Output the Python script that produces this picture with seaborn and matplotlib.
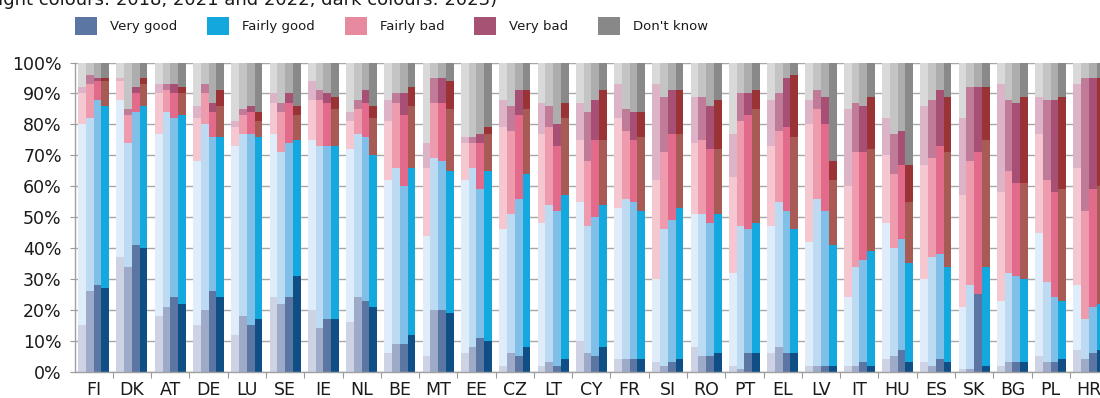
import numpy as np
import pandas as pd
import matplotlib
matplotlib.use("Agg")
import matplotlib.pyplot as plt
from matplotlib.patches import Patch
import seaborn as sns

# --- data -------------------------------------------------------------------
COUNTRIES = ["FI", "DK", "AT", "DE", "LU", "SE", "IE", "NL", "BE", "MT", "EE",
             "CZ", "LT", "CY", "FR", "SI", "RO", "PT", "EL", "LV", "IT", "HU",
             "ES", "SK", "BG", "PL", "HR"]
YEARS = ["2018", "2021", "2022", "2023"]
CATEGORIES = ["Very good", "Fairly good", "Fairly bad", "Very bad", "Don't know"]

# shares in % per country (same order as COUNTRIES)
VERY_GOOD_2018 = [15, 37, 18, 15, 12, 24, 20, 16, 6, 5, 6, 2, 2, 10, 4, 3, 8, 2, 6, 2, 2, 4, 3, 1, 2, 5, 7]
VERY_GOOD_2021 = [26, 34, 21, 20, 18, 22, 14, 24, 9, 20, 8, 6, 3, 6, 4, 2, 5, 1, 8, 2, 2, 5, 2, 1, 3, 3, 4]
VERY_GOOD_2022 = [28, 41, 24, 26, 15, 24, 17, 23, 9, 20, 11, 5, 2, 5, 4, 3, 5, 6, 6, 2, 3, 7, 4, 25, 3, 3, 6]
VERY_GOOD_2023 = [27, 40, 22, 24, 17, 31, 17, 21, 12, 19, 10, 8, 4, 8, 4, 4, 6, 6, 6, 2, 2, 3, 3, 2, 3, 4, 7]

FAIRLY_GOOD_2018 = [65, 51, 59, 53, 61, 53, 55, 56, 56, 39, 56, 44, 46, 45, 49, 27, 43, 30, 41, 40, 22, 44, 27, 20, 21, 40, 21]
FAIRLY_GOOD_2021 = [56, 40, 63, 60, 59, 49, 59, 53, 57, 49, 58, 45, 51, 41, 52, 44, 46, 46, 47, 54, 32, 35, 35, 27, 29, 26, 13]
FAIRLY_GOOD_2022 = [60, 43, 58, 50, 62, 50, 56, 53, 51, 48, 48, 51, 50, 45, 51, 46, 43, 40, 46, 50, 33, 36, 34, 0, 28, 21, 15]
FAIRLY_GOOD_2023 = [59, 46, 61, 52, 59, 44, 56, 49, 54, 46, 55, 56, 53, 46, 48, 49, 45, 42, 40, 39, 37, 32, 31, 32, 27, 19, 15]

FAIRLY_BAD_2018 = [10, 6, 13, 14, 6, 10, 13, 9, 19, 22, 12, 33, 29, 20, 29, 32, 23, 31, 26, 38, 36, 22, 37, 36, 35, 32, 38]
FAIRLY_BAD_2021 = [11, 9, 7, 10, 6, 13, 15, 8, 21, 18, 8, 27, 25, 21, 22, 25, 24, 34, 23, 29, 37, 24, 32, 40, 33, 33, 35]
FAIRLY_BAD_2022 = [6, 6, 8, 8, 7, 13, 14, 11, 23, 19, 15, 27, 21, 25, 20, 28, 24, 37, 27, 28, 35, 24, 35, 46, 30, 34, 38]
FAIRLY_BAD_2023 = [8, 7, 7, 10, 5, 8, 12, 12, 20, 20, 12, 21, 25, 21, 24, 24, 21, 37, 30, 21, 33, 20, 37, 41, 31, 36, 38]

VERY_BAD_2018 = [2, 1, 3, 4, 2, 3, 6, 3, 7, 8, 2, 9, 10, 12, 11, 31, 15, 14, 15, 8, 25, 12, 19, 25, 35, 12, 27]
VERY_BAD_2021 = [3, 2, 2, 3, 2, 3, 3, 3, 3, 8, 2, 8, 7, 16, 7, 18, 14, 9, 12, 6, 16, 13, 19, 24, 23, 26, 43]
VERY_BAD_2022 = [1, 2, 3, 3, 2, 3, 3, 4, 7, 8, 3, 8, 7, 13, 9, 14, 14, 7, 16, 9, 15, 11, 18, 21, 26, 30, 36]
VERY_BAD_2023 = [1, 2, 2, 5, 3, 3, 4, 4, 6, 9, 2, 6, 5, 16, 8, 14, 16, 6, 20, 6, 17, 12, 18, 17, 28, 30, 35]

DONT_KNOW_2018 = [8, 5, 7, 14, 19, 10, 6, 16, 12, 26, 24, 12, 13, 13, 7, 7, 11, 23, 12, 12, 15, 18, 14, 18, 7, 11, 7]
DONT_KNOW_2021 = [4, 15, 7, 7, 15, 13, 9, 12, 10, 5, 24, 14, 14, 16, 15, 11, 11, 10, 10, 9, 13, 23, 12, 8, 12, 12, 5]
DONT_KNOW_2022 = [5, 8, 7, 13, 14, 10, 10, 9, 10, 5, 23, 9, 20, 12, 16, 9, 14, 10, 5, 11, 14, 22, 9, 8, 13, 12, 5]
DONT_KNOW_2023 = [5, 5, 8, 9, 16, 14, 11, 14, 8, 6, 21, 9, 13, 9, 16, 9, 12, 9, 4, 32, 11, 33, 11, 8, 11, 11, 5]

SHARES = {
    "Very good": [VERY_GOOD_2018, VERY_GOOD_2021, VERY_GOOD_2022, VERY_GOOD_2023],
    "Fairly good": [FAIRLY_GOOD_2018, FAIRLY_GOOD_2021, FAIRLY_GOOD_2022, FAIRLY_GOOD_2023],
    "Fairly bad": [FAIRLY_BAD_2018, FAIRLY_BAD_2021, FAIRLY_BAD_2022, FAIRLY_BAD_2023],
    "Very bad": [VERY_BAD_2018, VERY_BAD_2021, VERY_BAD_2022, VERY_BAD_2023],
    "Don't know": [DONT_KNOW_2018, DONT_KNOW_2021, DONT_KNOW_2022, DONT_KNOW_2023],
}

# shades per answer, light (2018) -> dark (2023)
COLORS = {
    "Very good": ["#cdd3e5", "#9eabc8", "#5b76a3", "#104f85"],
    "Fairly good": ["#deedf9", "#bcdbf3", "#80bfe8", "#13a8de"],
    "Fairly bad": ["#f5c7d1", "#ee9bae", "#e26a8b", "#a85a55"],
    "Very bad": ["#dcb3c7", "#c07b98", "#a84f75", "#9a3336"],
    "Don't know": ["#d9d9d9", "#c4c4c4", "#adadad", "#898989"],
}
LEGEND_COLORS = ["#5b76a3", "#14a7dd", "#e78a9f", "#a65274", "#888888"]

# --- figure -----------------------------------------------------------------
sns.set_theme(style="white")
plt.rcParams["font.family"] = ["DejaVu Sans"]

W, H = 1100, 398
fig = plt.figure(figsize=(W / 100, H / 100), dpi=100)
ax = fig.add_axes([75 / W, 26.3 / H, 1035 / W, 309.2 / H])
ax.set_axisbelow(True)
ax.yaxis.grid(True, color="#a8a8a8", linewidth=1.0)
ax.xaxis.grid(False)

# stacked bars: draw cumulative totals from the top answer down
cum = np.zeros((len(YEARS), len(COUNTRIES)))
layers = []
for cat in CATEGORIES:
    cum = cum + np.array(SHARES[cat], dtype=float)
    layers.append((cat, cum.copy()))

for cat, top in reversed(layers):
    df = pd.DataFrame({
        "country": np.tile(COUNTRIES, len(YEARS)),
        "year": np.repeat(YEARS, len(COUNTRIES)),
        "value": top.ravel(),
    })
    sns.barplot(data=df, x="country", y="value", hue="year",
                order=COUNTRIES, hue_order=YEARS, palette=COLORS[cat],
                width=0.81, gap=0, saturation=1, dodge=True,
                errorbar=None, legend=False, linewidth=0,
                edgecolor="none", ax=ax)

ax.set_xlim(-0.489, 26.55)
ax.set_ylim(0, 100)
ax.set_xlabel("")
ax.set_ylabel("")

ax.set_yticks(range(0, 101, 10))
ax.set_yticklabels([f"{v}%" for v in range(0, 101, 10)])
ax.tick_params(axis="y", left=True, length=3.5, width=0.8, color="#999999",
               pad=6, labelsize=12.5, labelcolor="#1a1a1a")
ax.tick_params(axis="x", which="major", bottom=False, length=0, pad=7,
               labelsize=12.5, labelcolor="#1a1a1a")
ax.set_xticks(np.arange(len(COUNTRIES) - 1) + 0.5, minor=True)
ax.tick_params(axis="x", which="minor", bottom=True, length=4, width=0.8,
               color="#999999")

for side in ("top", "right"):
    ax.spines[side].set_visible(False)
for side in ("left", "bottom"):
    ax.spines[side].set_color("#a0a0a0")
    ax.spines[side].set_linewidth(1.0)

# legend row
handles = [Patch(facecolor=c, edgecolor="none") for c in LEGEND_COLORS]
fig.legend(handles=handles, labels=CATEGORIES, loc="upper left",
           bbox_to_anchor=(75 / W, 1 - 17 / H), ncol=5, frameon=False,
           fontsize=9.5, handlelength=1.67, handleheight=1.67,
           handletextpad=0.98, columnspacing=2.27, borderpad=0,
           borderaxespad=0, labelcolor="#1a1a1a")

# subtitle line running off the top edge
fig.text(497 / W, 1 - 5 / H,
         "(light colours: 2018, 2021 and 2022, dark colours: 2023)",
         ha="right", va="baseline", fontsize=13, color="#1a1a1a")

fig.savefig("out.png", dpi=100)
